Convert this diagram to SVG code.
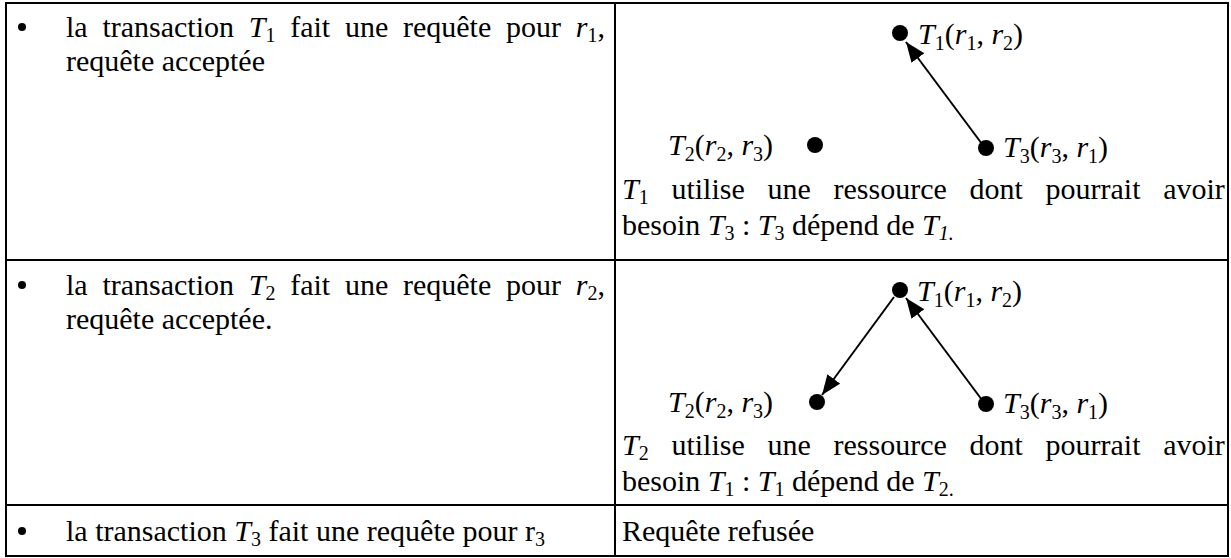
<svg xmlns="http://www.w3.org/2000/svg" width="1231" height="558" viewBox="0 0 1231 558">
<style>
text{font-family:'Liberation Serif','Times New Roman',Times,'DejaVu Serif',serif;font-size:30px;fill:#000}
.i{font-style:italic}
.s{font-size:20px}
.b{stroke:#000;stroke-width:2;fill:none}
.e{stroke:#000;stroke-width:2;fill:none}
.dot{fill:#000}
</style>
<defs>
<marker id="ah" markerUnits="userSpaceOnUse" markerWidth="22" markerHeight="18" refX="20" refY="8" orient="auto">
<path d="M0,0 L20,8 L0,16 z" fill="#000"/>
</marker>
</defs>
<g id="table">
<rect class="b" x="6" y="3" width="1222" height="553"/>
<line class="b" x1="615" y1="3" x2="615" y2="556"/>
<line class="b" x1="6" y1="260" x2="1228" y2="260"/>
<line class="b" x1="6" y1="505" x2="1228" y2="505"/>
</g>
<g id="row1-left">
<circle class="dot" cx="22" cy="27" r="4"/>
<text y="37"><tspan x="66">la</tspan><tspan x="102.4">transaction</tspan><tspan x="248.8" class="i">T</tspan><tspan class="s" dy="5">1</tspan><tspan x="290.2" dy="-5">fait</tspan><tspan x="345">une</tspan><tspan x="403">requête</tspan><tspan x="506">pour</tspan><tspan x="575.8" class="i">r</tspan><tspan class="s" dy="5">1</tspan><tspan dy="-5">,</tspan></text>
<text x="66" y="71">requête acceptée</text>
</g>
<g id="row2-left">
<circle class="dot" cx="22" cy="285" r="4"/>
<text y="295"><tspan x="66">la</tspan><tspan x="102.4">transaction</tspan><tspan x="248.8" class="i">T</tspan><tspan class="s" dy="5">2</tspan><tspan x="290.2" dy="-5">fait</tspan><tspan x="345">une</tspan><tspan x="403">requête</tspan><tspan x="506">pour</tspan><tspan x="575.8" class="i">r</tspan><tspan class="s" dy="5">2</tspan><tspan dy="-5">,</tspan></text>
<text x="66" y="329">requête acceptée.</text>
</g>
<g id="row3-left">
<circle class="dot" cx="22" cy="531" r="4"/>
<text x="66" y="541">la transaction <tspan class="i">T</tspan><tspan class="s" dy="5">3</tspan><tspan dy="-5"> fait une requête pour r</tspan><tspan class="s" dy="5">3</tspan></text>
</g>
<g id="connectors">
<line class="e" x1="985" y1="148" x2="906" y2="42" marker-end="url(#ah)"/>
<line class="e" x1="985" y1="404" x2="906" y2="298" marker-end="url(#ah)"/>
<line class="e" x1="894" y1="297" x2="822" y2="395" marker-end="url(#ah)"/>
</g>
<g id="g1-T1">
<circle class="dot" cx="900" cy="33" r="8"/>
<text x="918" y="44"><tspan class="i">T</tspan><tspan class="s" dy="6">1</tspan><tspan dy="-6">(</tspan><tspan class="i">r</tspan><tspan class="s" dy="6">1</tspan><tspan dy="-6">, </tspan><tspan class="i">r</tspan><tspan class="s" dy="6">2</tspan><tspan dy="-6">)</tspan></text>
</g>
<g id="g1-T2">
<circle class="dot" cx="815" cy="145" r="8"/>
<text x="668" y="155"><tspan class="i">T</tspan><tspan class="s" dy="6">2</tspan><tspan dy="-6">(</tspan><tspan class="i">r</tspan><tspan class="s" dy="6">2</tspan><tspan dy="-6">, </tspan><tspan class="i">r</tspan><tspan class="s" dy="6">3</tspan><tspan dy="-6">)</tspan></text>
</g>
<g id="g1-T3">
<circle class="dot" cx="986" cy="148" r="8"/>
<text x="1003" y="157"><tspan class="i">T</tspan><tspan class="s" dy="6">3</tspan><tspan dy="-6">(</tspan><tspan class="i">r</tspan><tspan class="s" dy="6">3</tspan><tspan dy="-6">, </tspan><tspan class="i">r</tspan><tspan class="s" dy="6">1</tspan><tspan dy="-6">)</tspan></text>
</g>
<g id="row1-right-text">
<text y="199"><tspan x="622" class="i">T</tspan><tspan class="s" dy="5">1</tspan><tspan x="671.4" dy="-5">utilise</tspan><tspan x="767.5">une</tspan><tspan x="833.5">ressource</tspan><tspan x="969.5">dont</tspan><tspan x="1045.5">pourrait</tspan><tspan x="1163.2">avoir</tspan></text>
<text x="622" y="235">besoin <tspan class="i">T</tspan><tspan class="s" dy="5">3</tspan><tspan dy="-5"> : </tspan><tspan class="i">T</tspan><tspan class="s" dy="5">3</tspan><tspan dy="-5"> dépend de </tspan><tspan class="i">T</tspan><tspan class="s i" dy="5">1.</tspan></text>
</g>
<g id="g2-T1">
<circle class="dot" cx="900" cy="290" r="8"/>
<text x="917" y="301"><tspan class="i">T</tspan><tspan class="s" dy="6">1</tspan><tspan dy="-6">(</tspan><tspan class="i">r</tspan><tspan class="s" dy="6">1</tspan><tspan dy="-6">, </tspan><tspan class="i">r</tspan><tspan class="s" dy="6">2</tspan><tspan dy="-6">)</tspan></text>
</g>
<g id="g2-T2">
<circle class="dot" cx="817" cy="402" r="8"/>
<text x="668" y="412"><tspan class="i">T</tspan><tspan class="s" dy="6">2</tspan><tspan dy="-6">(</tspan><tspan class="i">r</tspan><tspan class="s" dy="6">2</tspan><tspan dy="-6">, </tspan><tspan class="i">r</tspan><tspan class="s" dy="6">3</tspan><tspan dy="-6">)</tspan></text>
</g>
<g id="g2-T3">
<circle class="dot" cx="986" cy="404" r="8"/>
<text x="1003" y="413"><tspan class="i">T</tspan><tspan class="s" dy="6">3</tspan><tspan dy="-6">(</tspan><tspan class="i">r</tspan><tspan class="s" dy="6">3</tspan><tspan dy="-6">, </tspan><tspan class="i">r</tspan><tspan class="s" dy="6">1</tspan><tspan dy="-6">)</tspan></text>
</g>
<g id="row2-right-text">
<text y="455"><tspan x="622" class="i">T</tspan><tspan class="s" dy="5">2</tspan><tspan x="671.4" dy="-5">utilise</tspan><tspan x="767.5">une</tspan><tspan x="833.5">ressource</tspan><tspan x="969.5">dont</tspan><tspan x="1045.5">pourrait</tspan><tspan x="1163.2">avoir</tspan></text>
<text x="622" y="491">besoin <tspan class="i">T</tspan><tspan class="s" dy="5">1</tspan><tspan dy="-5"> : </tspan><tspan class="i">T</tspan><tspan class="s" dy="5">1</tspan><tspan dy="-5"> dépend de </tspan><tspan class="i">T</tspan><tspan class="s" dy="5">2.</tspan></text>
</g>
<g id="row3-right">
<text x="622" y="541">Requête refusée</text>
</g>
</svg>
